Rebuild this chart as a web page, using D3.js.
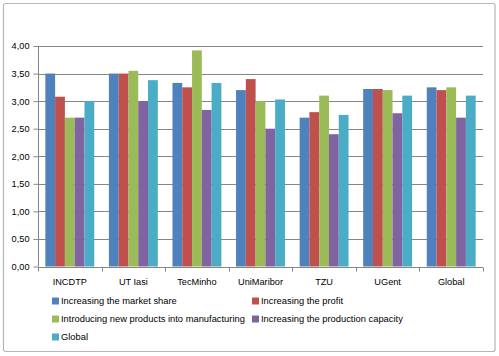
<!DOCTYPE html>
<html><head><meta charset="utf-8">
<script src="https://cdn.jsdelivr.net/npm/d3@7"></script>
<style>body{margin:0;background:#fff}svg{display:block}</style>
</head><body>
<svg id="c" width="499" height="356"></svg>
<script>
const categories = ["INCDTP","UT Iasi","TecMinho","UniMaribor","TZU","UGent","Global"];
const seriesNames = ["Increasing the market share","Increasing the profit","Introducing new products into manufacturing","Increasing the production capacity","Global"];
const marketShare = [3.50,3.50,3.33,3.20,2.70,3.22,3.25];
const profit      = [3.08,3.50,3.25,3.40,2.80,3.22,3.20];
const newProducts = [2.70,3.55,3.92,3.00,3.10,3.20,3.25];
const capacity    = [2.70,3.00,2.84,2.50,2.40,2.78,2.70];
const globalVals  = [3.00,3.38,3.33,3.03,2.75,3.10,3.10];
const yTicks = [0,0.5,1,1.5,2,2.5,3,3.5,4];
const colors = ["#4F81BD","#C0504D","#9BBB59","#8064A2","#4BACC6"];
const seriesValues = [marketShare, profit, newProducts, capacity, globalVals];

(function(){
const svg = d3.select("#c");
const font = "Liberation Sans, Arial, sans-serif";
svg.append("rect").attr("x",3.5).attr("y",3.5).attr("width",491.5).attr("height",348)
  .attr("fill","#fff").attr("stroke","#b5b5b5").attr("stroke-width",1.2).attr("rx",2);

const pl = 38, pr = 483, pt = 46, pb = 266.5;
const y = d3.scaleLinear().domain([0,4]).range([pb, pt]);
const x0 = d3.scaleBand().domain(categories).range([pl, pr]).paddingInner(0).paddingOuter(0);
const bw = x0.bandwidth()/6.5;
const x1 = d3.scaleBand().domain(d3.range(5)).range([bw*0.75, bw*5.75]);

// gridlines
svg.append("g").selectAll("line").data(yTicks.filter(d=>d>0)).join("line")
  .attr("x1",pl).attr("x2",pr).attr("y1",d=>Math.round(y(d))+0.5).attr("y2",d=>Math.round(y(d))+0.5)
  .attr("stroke","#868686").attr("stroke-width",1);

// bars
const g = svg.append("g");
categories.forEach((c,i)=>{
  seriesValues.forEach((vals,s)=>{
    g.append("rect").attr("x",x0(c)+x1(s)).attr("width",x1.bandwidth())
      .attr("y",y(vals[i])).attr("height",y(0)-y(vals[i])).attr("fill",colors[s]);
  });
});

// y axis
const yAxis = d3.axisLeft(y).tickValues(yTicks).tickSize(5).tickPadding(4)
  .tickFormat(d=>d3.format(".2f")(d).replace(".",","));
const ya = svg.append("g").attr("transform",`translate(${pl+0.5},0)`).call(yAxis);
ya.select(".domain").attr("stroke","#868686").attr("d",`M0,${pt}V${pb}`);
ya.selectAll(".tick line").attr("stroke","#868686");
ya.selectAll(".tick text").attr("font-family",font).attr("font-size","9.2px").attr("fill","#000");

// x axis
const xa = svg.append("g").attr("transform",`translate(0,${Math.round(pb)+0.5})`);
xa.append("line").attr("x1",pl).attr("x2",pr).attr("stroke","#868686");
const bounds = categories.map(c=>x0(c)).concat([pr]);
xa.selectAll("line.t").data(bounds).join("line").attr("class","t")
  .attr("x1",d=>Math.round(d)+0.5).attr("x2",d=>Math.round(d)+0.5).attr("y1",0).attr("y2",4).attr("stroke","#868686");
xa.selectAll("text").data(categories).join("text")
  .attr("x",d=>x0(d)+x0.bandwidth()/2).attr("y",17).attr("text-anchor","middle")
  .attr("font-family",font).attr("font-size","9.2px").attr("fill","#000").text(d=>d);

// legend
const legPos = [[52,301],[252,301],[52,319],[252,319],[52,337]];
seriesNames.forEach((n,i)=>{
  const [lx,ly] = legPos[i];
  svg.append("rect").attr("x",lx).attr("y",ly-3.5).attr("width",7).attr("height",7).attr("fill",colors[i]);
  svg.append("text").attr("x",lx+9).attr("y",ly+3.3).attr("font-family",font).attr("font-size","9.35px").attr("fill","#000").text(n);
});
})();
</script>
</body></html>
